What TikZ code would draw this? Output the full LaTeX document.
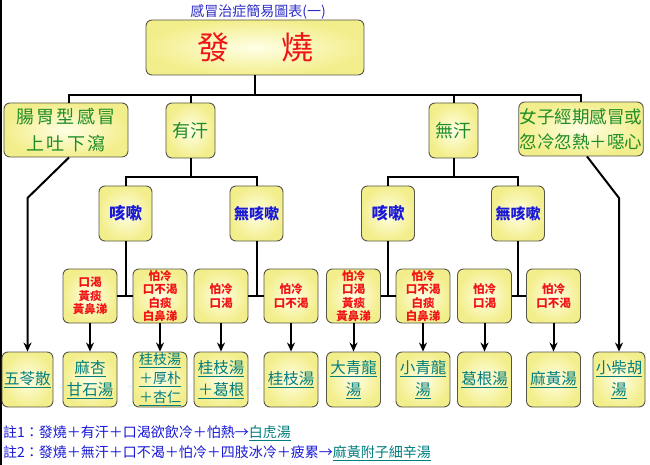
\documentclass[tikz,border=0pt]{standalone}
\usepackage{fontspec}
\setmainfont{Noto Sans CJK TC}
\usetikzlibrary{arrows.meta}
\definecolor{boxline}{RGB}{85,85,70}
\definecolor{boxout}{RGB}{243,238,140}
\definecolor{boxin}{RGB}{255,255,230}
\definecolor{redtxt}{RGB}{240,20,20}
\definecolor{greentxt}{RGB}{30,140,40}
\definecolor{bluetxt}{RGB}{25,25,215}
\definecolor{titletxt}{RGB}{45,45,200}
\definecolor{linktxt}{RGB}{0,125,125}
\newcommand{\lk}[1]{\underline{#1}}
\tikzset{
  box/.style={draw=boxline, line width=0.9pt, rounded corners=6pt,
    inner color=boxin, outer color=boxout, inner sep=1pt, align=center},
  grtxt/.style={text=greentxt, font=\fontsize{18}{27}\selectfont},
  bltxt/.style={text=bluetxt, font=\bfseries\fontsize{15}{18}\selectfont},
  rdtxt/.style={text=redtxt, font=\bfseries\fontsize{11.5}{13.5}\selectfont},
  lktxt/.style={text=linktxt, font=\fontsize{15.5}{22}\selectfont},
  wire/.style={line width=2pt},
  arr/.style={wire, -{Stealth[length=9pt,width=8pt]}},
}
\begin{document}
\begin{tikzpicture}[x=1pt, y=-1pt]
  \useasboundingbox (0,0) rectangle (650,465);
  % Viền trái
  \draw[line width=2pt] (1,0) -- (1,465);
  % Tiêu đề và hộp gốc
  \node[text=titletxt, font=\fontsize{14}{16}\selectfont] (title) at (258,12) {感冒治症簡易圖表(一)};
  \node[box, minimum width=218, minimum height=55, text=redtxt,
    font=\fontsize{32}{36}\selectfont] (fashao) at (255,47.5) {發\hspace{52pt}燒};
  % Hàng thứ hai
  \node[box, grtxt, font=\fontsize{18}{27}\selectfont\addfontfeature{LetterSpace=12}, minimum width=124, minimum height=54] (gut) at (66,130) {腸胃型感冒\\上吐下瀉};
  \node[box, grtxt, minimum width=49, minimum height=55] (yh) at (190.5,130.5) {有汗};
  \node[box, grtxt, minimum width=49, minimum height=55] (wh) at (453.5,130.5) {無汗};
  \node[box, grtxt, font=\fontsize{17.5}{25}\selectfont, minimum width=124, minimum height=54] (nv) at (581,129) {女子經期感冒或\\忽冷忽熱＋噁心};
  % Ho / không ho
  \foreach \n/\x/\t in {ka1/125.5/{\fontsize{16.5}{18}\selectfont 咳嗽}, nka1/256.5/無咳嗽, ka2/388/{\fontsize{16.5}{18}\selectfont 咳嗽}, nka2/518/無咳嗽}
    \node[box, bltxt, minimum width=53, minimum height=55] (\n) at (\x,213.5) {\t};
  % Triệu chứng
  \foreach \n/\x/\t in {s1/90/{口渴\\黃痰\\黃鼻涕}, s2/160/{怕冷\\口不渴\\白痰\\白鼻涕},
      s3/221/{怕冷\\口渴}, s4/291/{怕冷\\口不渴}, s5/353.5/{怕冷\\口渴\\黃痰\\黃鼻涕},
      s6/423/{怕冷\\口不渴\\白痰\\白鼻涕}, s7/484.5/{怕冷\\口渴}, s8/553.5/{怕冷\\口不渴}}
    \node[box, rdtxt, minimum width=54, minimum height=54] (\n) at (\x,296) {\t};
  % Bài thuốc
  \node[box, lktxt, minimum width=51, minimum height=55] (r0) at (27.5,379.5) {\lk{五苓散}};
  \foreach \n/\x/\t in {r1/90/{\lk{麻杏}\\\lk{甘石湯}}, r3/221/{\lk{桂枝湯}\\\lk{＋葛根}},
      r4/291/{\lk{桂枝湯}}, r5/353.5/{\lk{大青龍}\\\lk{湯}}, r6/423/{\lk{小青龍}\\\lk{湯}},
      r7/484.5/{\lk{葛根湯}}, r8/553.5/{\lk{麻黃湯}}}
    \node[box, lktxt, minimum width=54, minimum height=55] (\n) at (\x,379.5) {\t};
  \node[box, lktxt, font=\fontsize{14}{19}\selectfont, minimum width=54, minimum height=55] (r2) at (160,379.5) {\lk{桂枝湯}\\\lk{＋厚朴}\\\lk{＋杏仁}};
  \node[box, lktxt, minimum width=52, minimum height=55] (r9) at (619,379.5) {\lk{小柴胡}\\\lk{湯}};
  % Các đường nối
  \coordinate (busA) at (255,95);
  \coordinate (busB) at (0,177);
  \coordinate (kink) at (0,198);
  \draw[wire] (fashao.south) -- (busA);
  \draw[wire] ([xshift=3pt]gut.north) |- (busA) -| (nv.north);
  \draw[wire] (yh.north) -- (yh.north |- busA);
  \draw[wire] (wh.north) -- (wh.north |- busA);
  \foreach \p/\l/\r in {yh/ka1/nka1, wh/ka2/nka2} {
    \draw[wire] (\p.south) -- (\p.south |- busB);
    \draw[wire] (\l.north) |- (\r.north |- busB) -- (\r.north);
  }
  \foreach \a/\l/\r in {ka1/s1/s2, nka1/s3/s4, ka2/s5/s6, nka2/s7/s8} {
    \draw[wire] (\a.south) -- (\a.south |- \l.east);
    \draw[wire] (\l.east) -- (\r.west);
  }
  \foreach \i in {1,...,8}
    \draw[arr] (s\i.south) -- (r\i.north);
  \draw[arr] ([xshift=3pt]gut.south) -- (r0.north |- kink) -- (r0.north);
  \draw[arr] ([xshift=6pt]nv.south) -- (r9.north |- kink) -- (r9.north);
  % Ghi chú
  \node[anchor=west, inner sep=0pt, text=bluetxt, font=\fontsize{14}{16}\selectfont] (note1) at (3,433)
    {註1：發燒＋有汗＋口渴欲飲冷＋怕熱→{\color{linktxt}\lk{白虎湯}}};
  \node[anchor=west, inner sep=0pt, text=bluetxt, font=\fontsize{14}{16}\selectfont] (note2) at (3,453)
    {註2：發燒＋無汗＋口不渴＋怕冷＋四肢冰冷＋疲累→{\color{linktxt}\lk{麻黃附子細辛湯}}};
\end{tikzpicture}
\end{document}
